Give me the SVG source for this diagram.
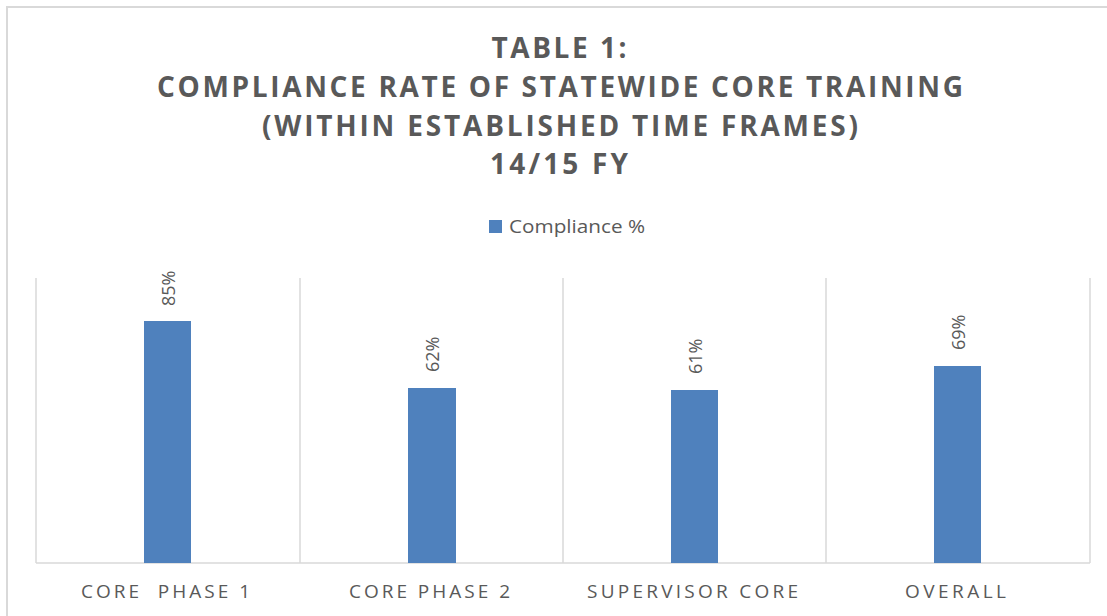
<svg xmlns="http://www.w3.org/2000/svg" width="1107" height="616" viewBox="0 0 1107 616">
  <style>
    .title { font-family: "Open Sans", "Liberation Sans", sans-serif; font-weight: bold; font-size: 28px; fill: #595959; text-anchor: middle; }
    .legend { font-family: "Open Sans", "Liberation Sans", sans-serif; font-size: 19px; fill: #595959; }
    .cat { font-family: "Open Sans", "Liberation Sans", sans-serif; font-size: 19px; fill: #595959; }
    .val { font-family: "Open Sans", "Liberation Sans", sans-serif; font-size: 18px; fill: #595959; }
    .grid { stroke: #D9D9D9; stroke-width: 1.5; fill: none; }
    .bar { fill: #4F81BD; }
  </style>

  <!-- chart frame -->
  <rect x="0" y="0" width="1107" height="616" fill="#FFFFFF"/>
  <path d="M7,616 V7 H1107" stroke="#D9D9D9" stroke-width="2" fill="none"/>

  <!-- title -->
  <g id="title">
    <text class="title" x="559" y="58" textLength="135" lengthAdjust="spacing">TABLE 1:</text>
    <text class="title" x="560" y="97" textLength="806" lengthAdjust="spacing">COMPLIANCE RATE OF STATEWIDE CORE TRAINING</text>
    <text class="title" x="560" y="136" textLength="596" lengthAdjust="spacing">(WITHIN ESTABLISHED TIME FRAMES)</text>
    <text class="title" x="559" y="174" textLength="138" lengthAdjust="spacing">14/15 FY</text>
  </g>

  <!-- legend -->
  <g id="legend">
    <rect class="bar" x="489" y="220" width="13" height="13"/>
    <text class="legend" x="509" y="233" textLength="136" lengthAdjust="spacingAndGlyphs">Compliance %</text>
  </g>

  <!-- plot area gridlines and axis -->
  <g id="grid">
    <path class="grid" d="M36,278 V563 M300,278 V563 M563,278 V563 M826,278 V563 M1090,278 V563"/>
    <path class="grid" d="M36,563 H1090"/>
  </g>

  <!-- bars, 100% = 285px above the axis -->
  <g id="bar-core-phase-1">
    <rect class="bar" x="144" y="321" width="47" height="242"/>
    <text class="val" transform="translate(175,306) rotate(-90)">85%</text>
    <text class="cat" x="81" y="598" textLength="169" lengthAdjust="spacing" xml:space="preserve">CORE  PHASE 1</text>
  </g>
  <g id="bar-core-phase-2">
    <rect class="bar" x="408" y="388" width="48" height="175"/>
    <text class="val" transform="translate(439,372) rotate(-90)">62%</text>
    <text class="cat" x="349" y="598" textLength="161" lengthAdjust="spacing">CORE PHASE 2</text>
  </g>
  <g id="bar-supervisor-core">
    <rect class="bar" x="671" y="390" width="47" height="173"/>
    <text class="val" transform="translate(702,374) rotate(-90)">61%</text>
    <text class="cat" x="587" y="598" textLength="211" lengthAdjust="spacing">SUPERVISOR CORE</text>
  </g>
  <g id="bar-overall">
    <rect class="bar" x="934" y="366" width="47" height="197"/>
    <text class="val" transform="translate(965,350) rotate(-90)">69%</text>
    <text class="cat" x="905" y="598" textLength="101" lengthAdjust="spacing">OVERALL</text>
  </g>
</svg>
